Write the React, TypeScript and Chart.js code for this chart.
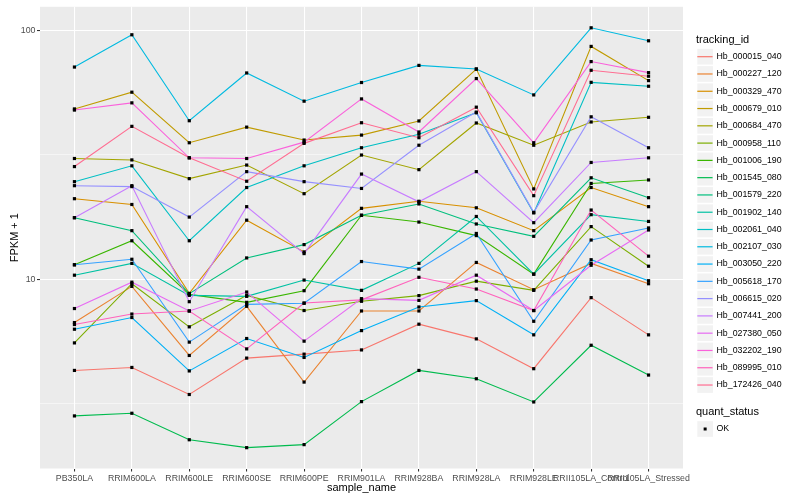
import React, { useEffect, useRef } from "react";
import { Chart, registerables } from "chart.js";

Chart.register(...registerables);

const categories = [
  "PB350LA", "RRIM600LA", "RRIM600LE", "RRIM600SE", "RRIM600PE", "RRIM901LA",
  "RRIM928BA", "RRIM928LA", "RRIM928LE", "RRII105LA_Control", "RRII105LA_Stressed",
];

const trackingIds = [
  "Hb_000015_040", "Hb_000227_120", "Hb_000329_470", "Hb_000679_010", "Hb_000684_470",
  "Hb_000958_110", "Hb_001006_190", "Hb_001545_080", "Hb_001579_220", "Hb_001902_140",
  "Hb_002061_040", "Hb_002107_030", "Hb_003050_220", "Hb_005618_170", "Hb_006615_020",
  "Hb_007441_200", "Hb_027380_050", "Hb_032202_190", "Hb_089995_010", "Hb_172426_040",
];

const trackingColors = [
  "#F8766D", "#EA8331", "#D89000", "#C09B00", "#A3A500",
  "#7CAE00", "#39B600", "#00BB4E", "#00BF7D", "#00C1A3",
  "#00BFC4", "#00BAE0", "#00B0F6", "#35A2FF", "#9590FF",
  "#C77CFF", "#E76BF3", "#FA62DB", "#FF62BC", "#FF6C91",
];

const Hb_000015_040 = [4.31, 4.43, 3.45, 4.83, 5.01, 5.21, 6.61, 5.77, 4.38, 8.45, 5.99];
const Hb_000227_120 = [6.71, 9.38, 4.95, 7.8, 3.87, 7.47, 7.47, 11.7, 9.09, 11.6, 9.61];
const Hb_000329_470 = [21.1, 20.0, 8.79, 17.3, 12.9, 19.3, 20.6, 19.4, 15.7, 23.4, 19.6];
const Hb_000679_010 = [48.4, 56.5, 35.4, 40.9, 36.3, 38.0, 43.3, 70.0, 23.1, 86.3, 62.9];
const Hb_000684_470 = [30.6, 30.2, 25.4, 28.8, 22.1, 31.6, 27.6, 42.5, 34.6, 42.9, 44.8];
const Hb_000958_110 = [5.56, 9.61, 6.45, 8.63, 7.5, 8.17, 8.61, 9.84, 9.04, 16.3, 11.3];
const Hb_001006_190 = [11.45, 14.3, 8.71, 8.09, 9.01, 18.1, 17.0, 15.0, 10.5, 24.3, 25.1];
const Hb_001545_080 = [2.83, 2.9, 2.27, 2.11, 2.17, 3.23, 4.31, 3.99, 3.22, 5.44, 4.13];
const Hb_001579_220 = [17.7, 15.7, 8.77, 12.2, 13.8, 18.1, 20.1, 16.7, 14.9, 25.6, 21.3];
const Hb_001902_140 = [10.4, 11.6, 8.63, 8.55, 9.94, 9.04, 11.6, 17.9, 10.5, 18.2, 17.1];
const Hb_002061_040 = [24.7, 28.6, 14.3, 23.4, 28.6, 33.8, 38.3, 46.7, 18.5, 61.9, 59.7];
const Hb_002107_030 = [71.3, 96.1, 43.4, 67.5, 52.0, 61.8, 72.4, 70.0, 55.1, 102.5, 90.9];
const Hb_003050_220 = [6.31, 7.03, 4.29, 5.79, 4.86, 6.23, 7.75, 8.22, 5.99, 12.0, 9.88];
const Hb_005618_170 = [11.45, 12.05, 5.6, 7.94, 8.02, 11.8, 11.0, 15.3, 6.79, 14.4, 16.1];
const Hb_006615_020 = [23.8, 23.6, 17.8, 27.1, 24.7, 23.2, 34.6, 47.0, 18.6, 45.0, 33.8];
const Hb_007441_200 = [17.7, 23.8, 8.14, 19.6, 12.7, 26.5, 20.5, 27.1, 16.9, 29.5, 30.8];
const Hb_027380_050 = [7.64, 9.75, 7.47, 8.9, 5.65, 8.37, 8.24, 10.4, 7.5, 11.4, 15.8];
const Hb_032202_190 = [47.9, 51.2, 30.8, 30.6, 35.6, 53.1, 39.1, 64.1, 35.4, 75.0, 67.7];
const Hb_089995_010 = [6.59, 7.26, 7.47, 5.26, 8.04, 8.28, 10.2, 9.15, 7.5, 19.0, 12.4];
const Hb_172426_040 = [28.4, 41.2, 30.8, 24.8, 35.2, 42.6, 37.1, 49.2, 21.7, 69.2, 65.5];

const seriesValues = [
  Hb_000015_040, Hb_000227_120, Hb_000329_470, Hb_000679_010, Hb_000684_470,
  Hb_000958_110, Hb_001006_190, Hb_001545_080, Hb_001579_220, Hb_001902_140,
  Hb_002061_040, Hb_002107_030, Hb_003050_220, Hb_005618_170, Hb_006615_020,
  Hb_007441_200, Hb_027380_050, Hb_032202_190, Hb_089995_010, Hb_172426_040,
];

const quantStatus = ["OK"];

const yMajorTicks = [10, 100];
const yMinorTicks = [3.1623, 31.623];
const yLimits = [1.74, 124.5];

const FONT = "'Liberation Sans', Arial, Helvetica, sans-serif";

const isMajor = (v: number) => yMajorTicks.some((m) => Math.abs(m - v) < 1e-6);

const panelPlugin = {
  id: "panelBg",
  beforeDraw(chart: any) {
    const { ctx, chartArea: a } = chart;
    ctx.save();
    ctx.fillStyle = "#FFFFFF";
    ctx.fillRect(0, 0, chart.width, chart.height);
    ctx.fillStyle = "#EBEBEB";
    ctx.fillRect(a.left, a.top, a.right - a.left, a.bottom - a.top);
    ctx.restore();
  },
};

const pointsPlugin = {
  id: "pointsOnTop",
  afterDatasetsDraw(chart: any) {
    const ctx = chart.ctx;
    ctx.save();
    ctx.fillStyle = "#000000";
    chart.data.datasets.forEach((_: any, i: number) => {
      const meta = chart.getDatasetMeta(i);
      meta.data.forEach((pt: any) => {
        ctx.fillRect(pt.x - 1.6, pt.y - 1.6, 3.2, 3.2);
      });
    });
    ctx.restore();
  },
};

const legendPlugin = {
  id: "ggLegend",
  afterDraw(chart: any) {
    const ctx = chart.ctx;
    const x0 = 696;
    const keyX = 696.5;
    const key = 17.28;
    ctx.save();
    ctx.textAlign = "left";
    ctx.textBaseline = "middle";
    ctx.fillStyle = "#000000";
    ctx.font = `11px ${FONT}`;
    ctx.fillText("tracking_id", x0, 39.5);
    const firstY = 56.7;
    trackingIds.forEach((id, i) => {
      const cy = firstY + i * key;
      ctx.fillStyle = "#F2F2F2";
      ctx.fillRect(keyX + 0.8, cy - key / 2 + 0.8, key - 1.6, key - 1.6);
      ctx.strokeStyle = trackingColors[i];
      ctx.lineWidth = 1.2;
      ctx.beginPath();
      ctx.moveTo(keyX + 0.8, cy);
      ctx.lineTo(keyX + key - 1.2, cy);
      ctx.stroke();
      ctx.fillStyle = "#000000";
      ctx.font = `8.8px ${FONT}`;
      ctx.fillText(id, 716.5, cy);
    });
    ctx.font = `11px ${FONT}`;
    ctx.fillStyle = "#000000";
    ctx.fillText("quant_status", x0, 411.5);
    quantStatus.forEach((s, i) => {
      const cy = 429 + i * key;
      ctx.fillStyle = "#F2F2F2";
      ctx.fillRect(keyX + 0.8, cy - key / 2 + 0.8, key - 1.6, key - 1.6);
      ctx.fillStyle = "#000000";
      ctx.fillRect(keyX + key / 2 - 1.5, cy - 1.5, 3, 3);
      ctx.font = `8.8px ${FONT}`;
      ctx.fillText(s, 716.5, cy);
    });
    ctx.restore();
  },
};

export default function App() {
  const canvasRef = useRef<HTMLCanvasElement | null>(null);

  useEffect(() => {
    if (!canvasRef.current) return;
    const datasets = seriesValues.map((vals, i) => ({
      label: trackingIds[i],
      data: vals.map((v, j) => ({ x: j, y: v })),
      borderColor: trackingColors[i],
      backgroundColor: trackingColors[i],
      borderWidth: 1.1,
      pointRadius: 0,
      pointHoverRadius: 0,
      tension: 0,
      fill: false,
      order: trackingIds.length - i,
    }));

    const chart = new Chart(canvasRef.current, {
      type: "line",
      data: { datasets },
      plugins: [panelPlugin, pointsPlugin, legendPlugin],
      options: {
        animation: false,
        responsive: false,
        devicePixelRatio: 1,
        layout: { padding: { left: 0, top: 5, right: 117, bottom: 0 } },
        plugins: {
          legend: { display: false },
          tooltip: { enabled: false },
        },
        scales: {
          x: {
            type: "linear",
            min: -0.6,
            max: categories.length - 1 + 0.6,
            bounds: "data",
            afterBuildTicks: (scale: any) => {
              scale.ticks = categories.map((_, i) => ({ value: i }));
            },
            afterFit: (scale: any) => {
              scale.height = 31.5;
            },
            ticks: {
              autoSkip: false,
              maxRotation: 0,
              minRotation: 0,
              padding: 1.5,
              color: "#4D4D4D",
              font: { family: FONT, size: 8.8 },
              callback: (value: any) => categories[Math.round(Number(value))] ?? "",
            },
            grid: {
              color: "#FFFFFF",
              lineWidth: 1.07,
              tickColor: "#333333",
              tickLength: 3,
              tickWidth: 1.07,
            },
            border: { display: false },
            title: {
              display: true,
              text: "sample_name",
              color: "#000000",
              font: { family: FONT, size: 11 },
              padding: { top: 0, bottom: 5.2 },
            },
          },
          y: {
            type: "logarithmic",
            min: yLimits[0],
            max: yLimits[1],
            bounds: "data",
            afterBuildTicks: (scale: any) => {
              const all = [...yMinorTicks, ...yMajorTicks].sort((a, b) => a - b);
              scale.ticks = all.map((v) => ({ value: v, major: isMajor(v) }));
            },
            afterFit: (scale: any) => {
              scale.width = 40;
            },
            ticks: {
              autoSkip: false,
              padding: 1.5,
              color: "#4D4D4D",
              font: { family: FONT, size: 8.8 },
              callback: (value: any) => (isMajor(Number(value)) ? String(value) : ""),
            },
            grid: {
              color: "#FFFFFF",
              lineWidth: (ctx: any) => (ctx.tick && isMajor(ctx.tick.value) ? 1.07 : 0.53),
              tickColor: (ctx: any) =>
                ctx.tick && isMajor(ctx.tick.value) ? "#333333" : "rgba(0,0,0,0)",
              tickLength: 3,
              tickWidth: 1.07,
            },
            border: { display: false },
            title: {
              display: true,
              text: "FPKM + 1",
              color: "#000000",
              font: { family: FONT, size: 11 },
              padding: { top: 8, bottom: 0 },
            },
          },
        },
      } as any,
    });

    return () => chart.destroy();
  }, []);

  return (
    <div style={{ position: "absolute", left: 0, top: 0, width: 800, height: 500, background: "#FFFFFF" }}>
      <canvas ref={canvasRef} width={800} height={500} style={{ width: 800, height: 500 }} />
    </div>
  );
}
